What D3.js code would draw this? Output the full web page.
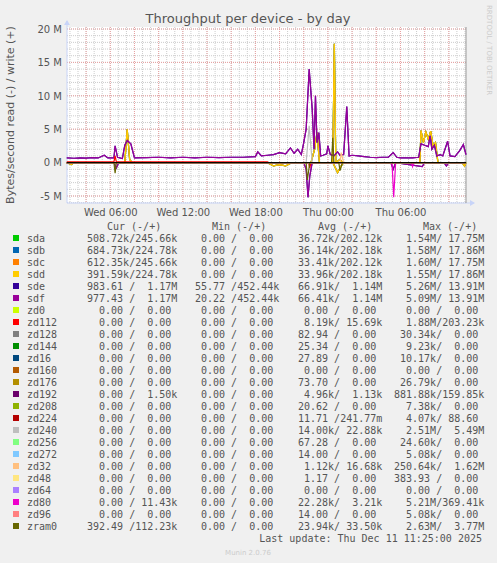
<!DOCTYPE html>
<html>
<head>
<meta charset="utf-8">
<script src="https://cdn.jsdelivr.net/npm/d3@7"></script>
<style>
body { margin: 0; background: #f0f0f0; }
svg { display: block; }
text { font-family: "DejaVu Sans", sans-serif; }
.mono { font-family: "DejaVu Sans Mono", monospace; font-size: 10px; fill: #555; white-space: pre; }
</style>
</head>
<body>
<svg width="497" height="563"></svg>
<script>
// hours since Wed 00:00, values in MB/s; write (+), read (-)
var sdfWrite = [[2.4,.7],[3,.65],[3.5,.7],[4,.68],[4.5,.75],[5,.7],[5.5,1.1],[5.8,.7],[6.3,.7],[6.4,2.5],[6.6,.8],[7,.6],[7.2,2.6],[7.4,3.3],[7.7,2.8],[8,.7],[9,.75],[10,.8],[11,.7],[12,.8],[13,.7],[14,.8],[15,.75],[16,.8],[17,.8],[18,.9],[18.2,1.6],[18.5,1.0],[19,1.1],[19.5,1.2],[20,1.5],[20.5,1.3],[20.9,2.2],[21.2,1.4],[21.5,2.0],[21.8,1.2],[22,3.0],[22.2,5],[22.45,14],[22.7,8],[22.85,2],[22.97,10],[23.1,3],[23.25,4.5],[23.4,1.0],[23.6,1.1],[23.9,1.3],[24,2.5],[24.2,1.2],[24.5,1.0],[24.8,1.6],[25,1.1],[25.3,1.2],[25.56,8.4],[25.75,1.0],[26,1.1],[26.5,1.0],[27,0.9],[27.5,0.8],[28,0.75],[28.5,0.8],[29,0.8],[29.4,1.5],[29.7,0.8],[30,0.7],[30.5,0.7],[31,0.7],[31.5,0.8],[31.7,2.8],[32,2.6],[32.3,2.4],[32.45,4],[32.6,2],[32.8,2.6],[33,1.0],[33.3,1.2],[33.5,1.0],[33.9,3.2],[34.1,1.0],[34.5,0.9],[34.9,1.8],[35.2,2.7],[35.42,1.2]];
var sdfRead = [[2.4,0],[6.3,0],[6.5,-0.8],[6.7,0],[22,0],[22.2,-1],[22.35,-5.2],[22.5,-2],[22.7,0],[29.2,0],[29.4,-1],[29.6,0],[31.8,-0.6],[32,0],[33.6,0],[33.8,-0.5],[34,0],[35.42,0]];
var sddWrite = [[2.4,0],[7.2,0],[7.4,5.0],[7.6,0.5],[7.8,0],[22.6,0],[22.9,2],[23.1,4.5],[23.3,0],[24.4,0],[24.53,17.8],[24.65,0],[25,0.5],[25.2,0],[31.6,0],[31.7,4.8],[31.9,3],[32.1,4.6],[32.3,3.5],[32.5,4.7],[32.7,2.5],[32.9,3.0],[33.1,0],[35.42,0]];
var sddRead = [[2.4,0],[2.8,-0.3],[3.0,0],[19,0],[19.5,-0.5],[20,-0.3],[20.5,-0.5],[21,0],[24.4,0],[24.8,-1.5],[25.1,-0.5],[25.3,0],[35.1,0],[35.3,-0.5],[35.42,0]];
var zram0Write = [[2.4,0],[24.3,0],[24.4,3.7],[24.5,0],[35.42,0]];
var zram0Read = [[2.4,0],[6.3,0],[6.4,-1.6],[6.5,0],[22.2,0],[22.3,-2.6],[22.5,0],[24.9,0],[25,-1.2],[25.2,0],[35.42,0]];
var zd240Write = [[2.4,0],[22.2,0],[22.45,5.5],[22.7,0],[35.42,0]];
var zd80Read = [[2.4,0],[29.3,0],[29.44,-5.2],[29.6,0],[30.9,0],[31,-0.6],[31.1,0],[35.42,0]];
var zd112Write = [[2.4,0.1],[6.3,0.1],[6.4,1.0],[6.5,0.1],[19,0.1],[19.1,0],[22.4,0],[22.5,-0.8],[22.6,0],[35.42,0]];
var zd32Write = [[2.4,0],[25,0],[25.1,1.5],[25.3,0],[35.42,0]];

var names = ["sda","sdb","sdc","sdd","sde","sdf","zd0","zd112","zd128","zd144","zd16","zd160","zd176","zd192","zd208","zd224","zd240","zd256","zd272","zd32","zd48","zd64","zd80","zd96","zram0"];
var colors = ["#00CC00","#0066B3","#FF8000","#FFCC00","#330099","#990099","#CCFF00","#FF0000","#808080","#008F00","#00487D","#B35A00","#B38F00","#6B006B","#8FB300","#B30000","#BEBEBE","#80FF80","#80C9FF","#FFC080","#FFE680","#AA80FF","#EE00CC","#FF8080","#666600"];
var curCol = ["508.72k/245.66k","684.73k/224.78k","612.35k/245.66k","391.59k/224.78k","983.61 /  1.17M","977.43 /  1.17M","  0.00 /  0.00","  0.00 /  0.00","  0.00 /  0.00","  0.00 /  0.00","  0.00 /  0.00","  0.00 /  0.00","  0.00 /  0.00","  0.00 /  1.50k","  0.00 /  0.00","  0.00 /  0.00","  0.00 /  0.00","  0.00 /  0.00","  0.00 /  0.00","  0.00 /  0.00","  0.00 /  0.00","  0.00 /  0.00","  0.00 / 11.43k","  0.00 /  0.00","392.49 /112.23k"];
var minCol = [" 0.00 /  0.00"," 0.00 /  0.00"," 0.00 /  0.00"," 0.00 /  0.00","55.77 /452.44k","20.22 /452.44k"];
var avgCol = ["36.72k/202.12k","36.14k/202.18k","33.41k/202.12k","33.96k/202.18k","66.91k/  1.14M","66.41k/  1.14M"," 0.00 /  0.00"," 8.19k/ 15.69k","82.94 /  0.00","25.34 /  0.00","27.89 /  0.00"," 0.00 /  0.00","73.70 /  0.00"," 4.96k/  1.13k","20.62 /  0.00","11.71 /241.77m","14.00k/ 22.88k","67.28 /  0.00","14.00 /  0.00"," 1.12k/ 16.68k"," 1.17 /  0.00"," 0.00 /  0.00","22.28k/  3.21k","14.00 /  0.00","23.94k/ 33.50k"];
var maxCol = ["  1.54M/ 17.75M","  1.58M/ 17.86M","  1.60M/ 17.75M","  1.55M/ 17.86M","  5.26M/ 13.91M","  5.09M/ 13.91M","  0.00 /  0.00","  1.88M/203.23k"," 30.34k/  0.00","  9.23k/  0.00"," 10.17k/  0.00","  0.00 /  0.00"," 26.79k/  0.00","881.88k/159.85k","  7.38k/  0.00","  4.07k/ 88.60","  2.51M/  5.49M"," 24.60k/  0.00","  5.08k/  0.00","250.64k/  1.62M","383.93 /  0.00","  0.00 /  0.00","  5.21M/369.41k","  5.08k/  0.00","  2.63M/  3.77M"];
var yTicks = [-5, 0, 5, 10, 15, 20];
var xTicks = [6, 12, 18, 24, 30];
var xTickLabels = ["Wed 06:00","Wed 12:00","Wed 18:00","Thu 00:00","Thu 06:00"];

var series = {
  sda: [sddWrite, sddRead], sdb: [sddWrite, sddRead], sdc: [sddWrite, sddRead], sdd: [sddWrite, sddRead],
  sde: [sdfWrite, sdfRead], sdf: [sdfWrite, sdfRead],
  zd112: [zd112Write], zd240: [zd240Write], zd32: [zd32Write], zd80: [zd80Read],
  zram0: [zram0Write, zram0Read]
};

var svg = d3.select("svg");
var L = 67, R = 466, T = 27, B = 203;
var x = d3.scaleLinear().domain([2.42, 35.42]).range([L, R]);
var y = d3.scaleLinear().domain([-5, 20]).range([196, 29]);

svg.append("rect").attr("x", L).attr("y", T).attr("width", R - L).attr("height", B - T).attr("fill", "#fff");

// grid
var minorX = d3.range(0, 36, 2/3).filter(function(h) { return h >= 2.42 && h <= 35.42; });
var minorY = d3.range(-6, 21, 1);
var g = svg.append("g");
g.selectAll(".mx").data(minorX).enter().append("line")
  .attr("x1", function(d) { return x(d); }).attr("x2", function(d) { return x(d); })
  .attr("y1", T).attr("y2", B).attr("stroke", "#ccc").attr("stroke-dasharray", "1,1");
g.selectAll(".my").data(minorY).enter().append("line")
  .attr("x1", L).attr("x2", R).attr("y1", function(d) { return y(d); }).attr("y2", function(d) { return y(d); })
  .attr("stroke", "#ccc").attr("stroke-dasharray", "1,1");
g.selectAll(".Mx").data(d3.range(4, 36, 2)).enter().append("line")
  .attr("x1", function(d) { return x(d); }).attr("x2", function(d) { return x(d); })
  .attr("y1", T).attr("y2", B).attr("stroke", "#e8a0a0").attr("stroke-dasharray", "1,1");
g.selectAll(".My").data(yTicks).enter().append("line")
  .attr("x1", L).attr("x2", R).attr("y1", function(d) { return y(d); }).attr("y2", function(d) { return y(d); })
  .attr("stroke", "#e8a0a0").attr("stroke-dasharray", "1,1");

// axes
var yAxis = d3.axisLeft(y).tickValues(yTicks).tickSize(0).tickPadding(5)
  .tickFormat(function(d) { return d + " M"; });
var ya = svg.append("g").attr("transform", "translate(" + L + ",0)").call(yAxis);
var xAxis = d3.axisBottom(x).tickValues(xTicks).tickSize(0).tickPadding(6)
  .tickFormat(function(d, i) { return xTickLabels[i]; });
var xa = svg.append("g").attr("transform", "translate(0," + B + ")").call(xAxis);
[ya, xa].forEach(function(a) {
  a.select(".domain").remove();
  a.selectAll("text").attr("fill", "#555").style("font-size", "10px");
});
svg.append("line").attr("x1", L).attr("x2", R + 8).attr("y1", B).attr("y2", B).attr("stroke", "#c8d4f8");
svg.append("line").attr("x1", L).attr("x2", L).attr("y1", B).attr("y2", T - 6).attr("stroke", "#c8d4f8");
svg.append("path").attr("d", "M" + (R + 4) + "," + (B - 3) + "l5,3l-5,3z").attr("fill", "#c8d4f8");
svg.append("path").attr("d", "M" + (L - 3) + "," + (T - 2) + "l3,-5l3,5z").attr("fill", "#c8d4f8");
svg.append("line").attr("x1", R).attr("x2", R).attr("y1", T).attr("y2", B).attr("stroke", "#999");

// lines
var line = d3.line().x(function(d) { return x(d[0]); }).y(function(d) { return y(d[1]); });
names.forEach(function(n, i) {
  var s = series[n] || [[[2.42, 0], [35.42, 0]]];
  s.forEach(function(arr) {
    svg.append("path").datum(arr).attr("d", line).attr("fill", "none")
      .attr("stroke", colors[i]).attr("stroke-width", 1.2);
  });
});
svg.append("line").attr("x1", L).attr("x2", R).attr("y1", y(0)).attr("y2", y(0)).attr("stroke", "#000");

// titles
svg.append("text").attr("x", 248).attr("y", 23).attr("text-anchor", "middle")
  .style("font-size", "13px").attr("fill", "#555").text("Throughput per device - by day");
svg.append("text").attr("transform", "translate(14,115) rotate(-90)").attr("text-anchor", "middle")
  .style("font-size", "11px").attr("fill", "#555").text("Bytes/second read (-) / write (+)");
svg.append("text").attr("transform", "translate(487,5) rotate(90)")
  .style("font-size", "7px").attr("fill", "#ccc").text("RRDTOOL / TOBI OETIKER");

// legend
var hdr = [["Cur (-/+)", 107], ["Min (-/+)", 212], ["Avg (-/+)", 318], ["Max (-/+)", 423]];
hdr.forEach(function(h) {
  svg.append("text").attr("class", "mono").attr("x", h[1]).attr("y", 230).text(h[0]);
});
names.forEach(function(n, i) {
  var yy = 242 + i * 12;
  svg.append("rect").attr("x", 13).attr("y", yy - 7).attr("width", 6).attr("height", 6).attr("fill", colors[i]);
  svg.append("text").attr("class", "mono").attr("x", 27).attr("y", yy).text(n);
  svg.append("text").attr("class", "mono").attr("x", 87).attr("y", yy).text(curCol[i]);
  svg.append("text").attr("class", "mono").attr("x", 195).attr("y", yy).text(minCol[i] || " 0.00 /  0.00");
  svg.append("text").attr("class", "mono").attr("x", 298).attr("y", yy).text(avgCol[i]);
  svg.append("text").attr("class", "mono").attr("x", 394).attr("y", yy).text(maxCol[i]);
});
svg.append("text").attr("class", "mono").attr("x", 482).attr("y", 542).attr("text-anchor", "end")
  .text("Last update: Thu Dec 11 11:25:00 2025");
svg.append("text").attr("x", 248).attr("y", 555).attr("text-anchor", "middle")
  .style("font-size", "7px").attr("fill", "#ccc").text("Munin 2.0.76");
</script>
</body>
</html>
